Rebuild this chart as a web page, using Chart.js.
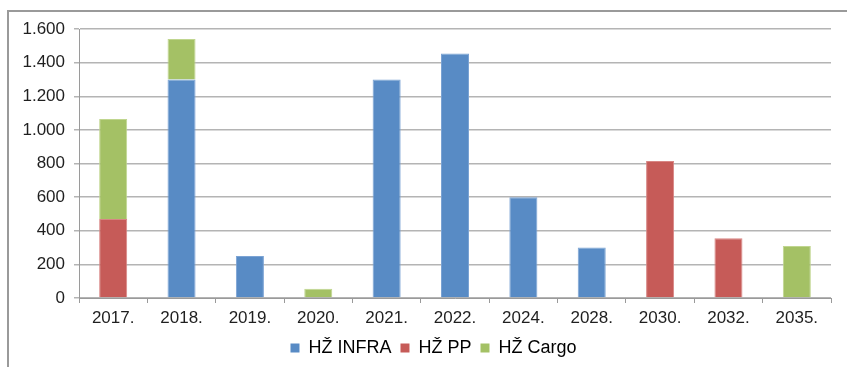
<!DOCTYPE html>
<html>
<head>
<meta charset="utf-8">
<script src="https://cdn.jsdelivr.net/npm/chart.js@4"></script>
<style>
  html, body { margin: 0; padding: 0; background: #fff; }
  #wrap { position: relative; width: 847px; height: 367px; overflow: hidden; }
  #frame { position: absolute; left: 7px; top: 10px; width: 900px; height: 400px;
           border: 2px solid #9a9a9a; box-sizing: border-box; }
  #wrap canvas { position: absolute; left: 0; top: 0; }
</style>
</head>
<body>
<div id="wrap">
  <div id="frame"></div>
  <canvas id="ulaganja" width="847" height="367"></canvas>
</div>
<script>
var godine = ['2017.', '2018.', '2019.', '2020.', '2021.', '2022.', '2024.', '2028.', '2030.', '2032.', '2035.'];
var hzInfra = [0, 1300, 250, 0, 1300, 1455, 600, 300, 0, 0, 0];
var hzPp = [470, 0, 0, 0, 0, 0, 0, 0, 815, 355, 0];
var hzCargo = [595, 240, 0, 55, 0, 0, 0, 0, 0, 0, 310];

Chart.defaults.font.family = '"Liberation Sans", Arial, sans-serif';
Chart.defaults.font.size = 17;
Chart.defaults.color = '#1f1f1f';

function serija( label, data, boja, rub ) {
	return {
		label: label,
		data: data,
		backgroundColor: boja,
		borderColor: rub,
		borderWidth: 1,
		borderSkipped: 'bottom',
		categoryPercentage: 0.82,
		barPercentage: 0.5
	};
}

// legenda malo udesno, centrirana ispod cijelog okvira
var pomakLegende = {
	id: 'pomakLegende',
	afterLayout: function ( chart ) {
		chart.legend.left += 8;
		chart.legend.right += 8;
	}
};

var ctx = document.getElementById( 'ulaganja' ).getContext( '2d' );
var myChart = new Chart( ctx, {
	type: 'bar',
	data: {
		labels: godine,
		datasets: [
			serija( 'HŽ INFRA', hzInfra, '#588bc5', '#7ba3d4' ),
			serija( 'HŽ PP', hzPp, '#c65b58', '#d88684' ),
			serija( 'HŽ Cargo', hzCargo, '#a4c165', '#c0d68f' )
		]
	},
	plugins: [pomakLegende],
	options: {
		responsive: false,
		animation: false,
		layout: { padding: { left: 20, top: 29, right: 16, bottom: 0 } },
		plugins: {
			tooltip: { enabled: false },
			legend: {
				position: 'bottom',
				labels: {
					boxWidth: 9,
					boxHeight: 9,
					padding: 9,
					font: { size: 18 },
					generateLabels: function ( chart ) {
						return chart.data.datasets.map( function ( ds, i ) {
							return {
								text: ds.label,
								fillStyle: ds.backgroundColor,
								strokeStyle: ds.backgroundColor,
								lineWidth: 0,
								datasetIndex: i
							};
						} );
					}
				}
			}
		},
		scales: {
			x: {
				stacked: true,
				grid: {
					offset: true,
					drawOnChartArea: false,
					drawTicks: true,
					tickLength: 5,
					color: '#9a9a9a',
					lineWidth: 1
				},
				border: { color: '#9a9a9a', width: 1 },
				ticks: { padding: 5, maxRotation: 0, autoSkip: false },
				afterFit: function ( scale ) { scale.height = 32; }
			},
			y: {
				stacked: true,
				min: 0,
				max: 1600,
				grid: {
					color: '#b4b4b4',
					lineWidth: 1.5,
					tickLength: 5,
					drawTicks: true
				},
				border: { color: '#9a9a9a', width: 1 },
				ticks: {
					stepSize: 200,
					padding: 9,
					callback: function ( v ) {
						return v.toLocaleString( 'de-DE' );
					}
				},
				afterFit: function ( scale ) { scale.width = 59; }
			}
		}
	}
} );
</script>
</body>
</html>
